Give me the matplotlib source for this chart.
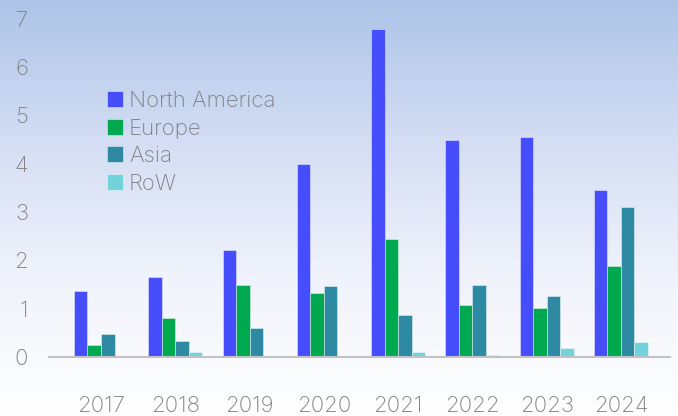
import numpy as np
import matplotlib; matplotlib.use("Agg")
import matplotlib.pyplot as plt
from matplotlib.colors import LinearSegmentedColormap

years = ["2017", "2018", "2019", "2020", "2021", "2022", "2023", "2024"]
north_america = [1.37, 1.65, 2.21, 3.99, 6.78, 4.50, 4.55, 3.46]
europe = [0.24, 0.80, 1.50, 1.32, 2.44, 1.07, 1.01, 1.89]
asia = [0.48, 0.33, 0.59, 1.46, 0.87, 1.49, 1.26, 3.10]
row = [0.02, 0.11, 0.01, 0.01, 0.10, 0.05, 0.19, 0.31]

series = [("North America", north_america, "#464EFC"),
          ("Europe", europe, "#00A84F"),
          ("Asia", asia, "#2E89A2"),
          ("RoW", row, "#72D3DA")]

plt.rcParams["font.family"] = ["Inter", "DejaVu Sans"]
plt.rcParams["font.weight"] = "light"
TXT = "#808086"

W, H = 678, 416
fig = plt.figure(figsize=(W / 100, H / 100), dpi=100)

# background gradient
bg = fig.add_axes([0, 0, 1, 1], zorder=0)
cmap = LinearSegmentedColormap.from_list("bg", ["#adc4e8", "#d3ddf3", "#f0f3fb", "#ffffff"])
grad = np.linspace(0, 1, 256).reshape(-1, 1)
bg.imshow(grad, aspect="auto", cmap=cmap, extent=[0, 1, 0, 1], origin="upper")
bg.axis("off")

ax = fig.add_axes([49 / W, 1 - 357 / H, (670 - 49) / W, (357 - 9.2) / H], zorder=1)
ax.patch.set_alpha(0)

x = np.arange(len(years))
bw = 0.182
for i, (name, vals, col) in enumerate(series):
    ax.bar(x + (i - 1.5) * bw, vals, bw, color=col, label=name,
           edgecolor=(1, 1, 1, 0.5), linewidth=0.6)

ax.set_xlim(-0.70, 7.66)
ax.set_ylim(0, 7.2)
ax.set_yticks(range(0, 8))
ax.set_xticks(x)
ax.set_xticklabels(years)
for s in ["top", "right", "left"]:
    ax.spines[s].set_visible(False)
ax.spines["bottom"].set_color("#c2c2c6")
ax.spines["bottom"].set_linewidth(1.5)
ax.tick_params(axis="both", length=0, labelsize=16, labelcolor=TXT)
ax.tick_params(axis="x", pad=28)
ax.tick_params(axis="y", pad=15)

ax.legend(loc="upper left", bbox_to_anchor=(107 / W, 1 - 91 / H),
          bbox_transform=fig.transFigure, frameon=False, fontsize=16,
          labelcolor=TXT, borderpad=0, borderaxespad=0,
          handlelength=0.72, handleheight=0.72, handletextpad=0.27,
          labelspacing=0.34)

fig.savefig("out.png", dpi=100)
